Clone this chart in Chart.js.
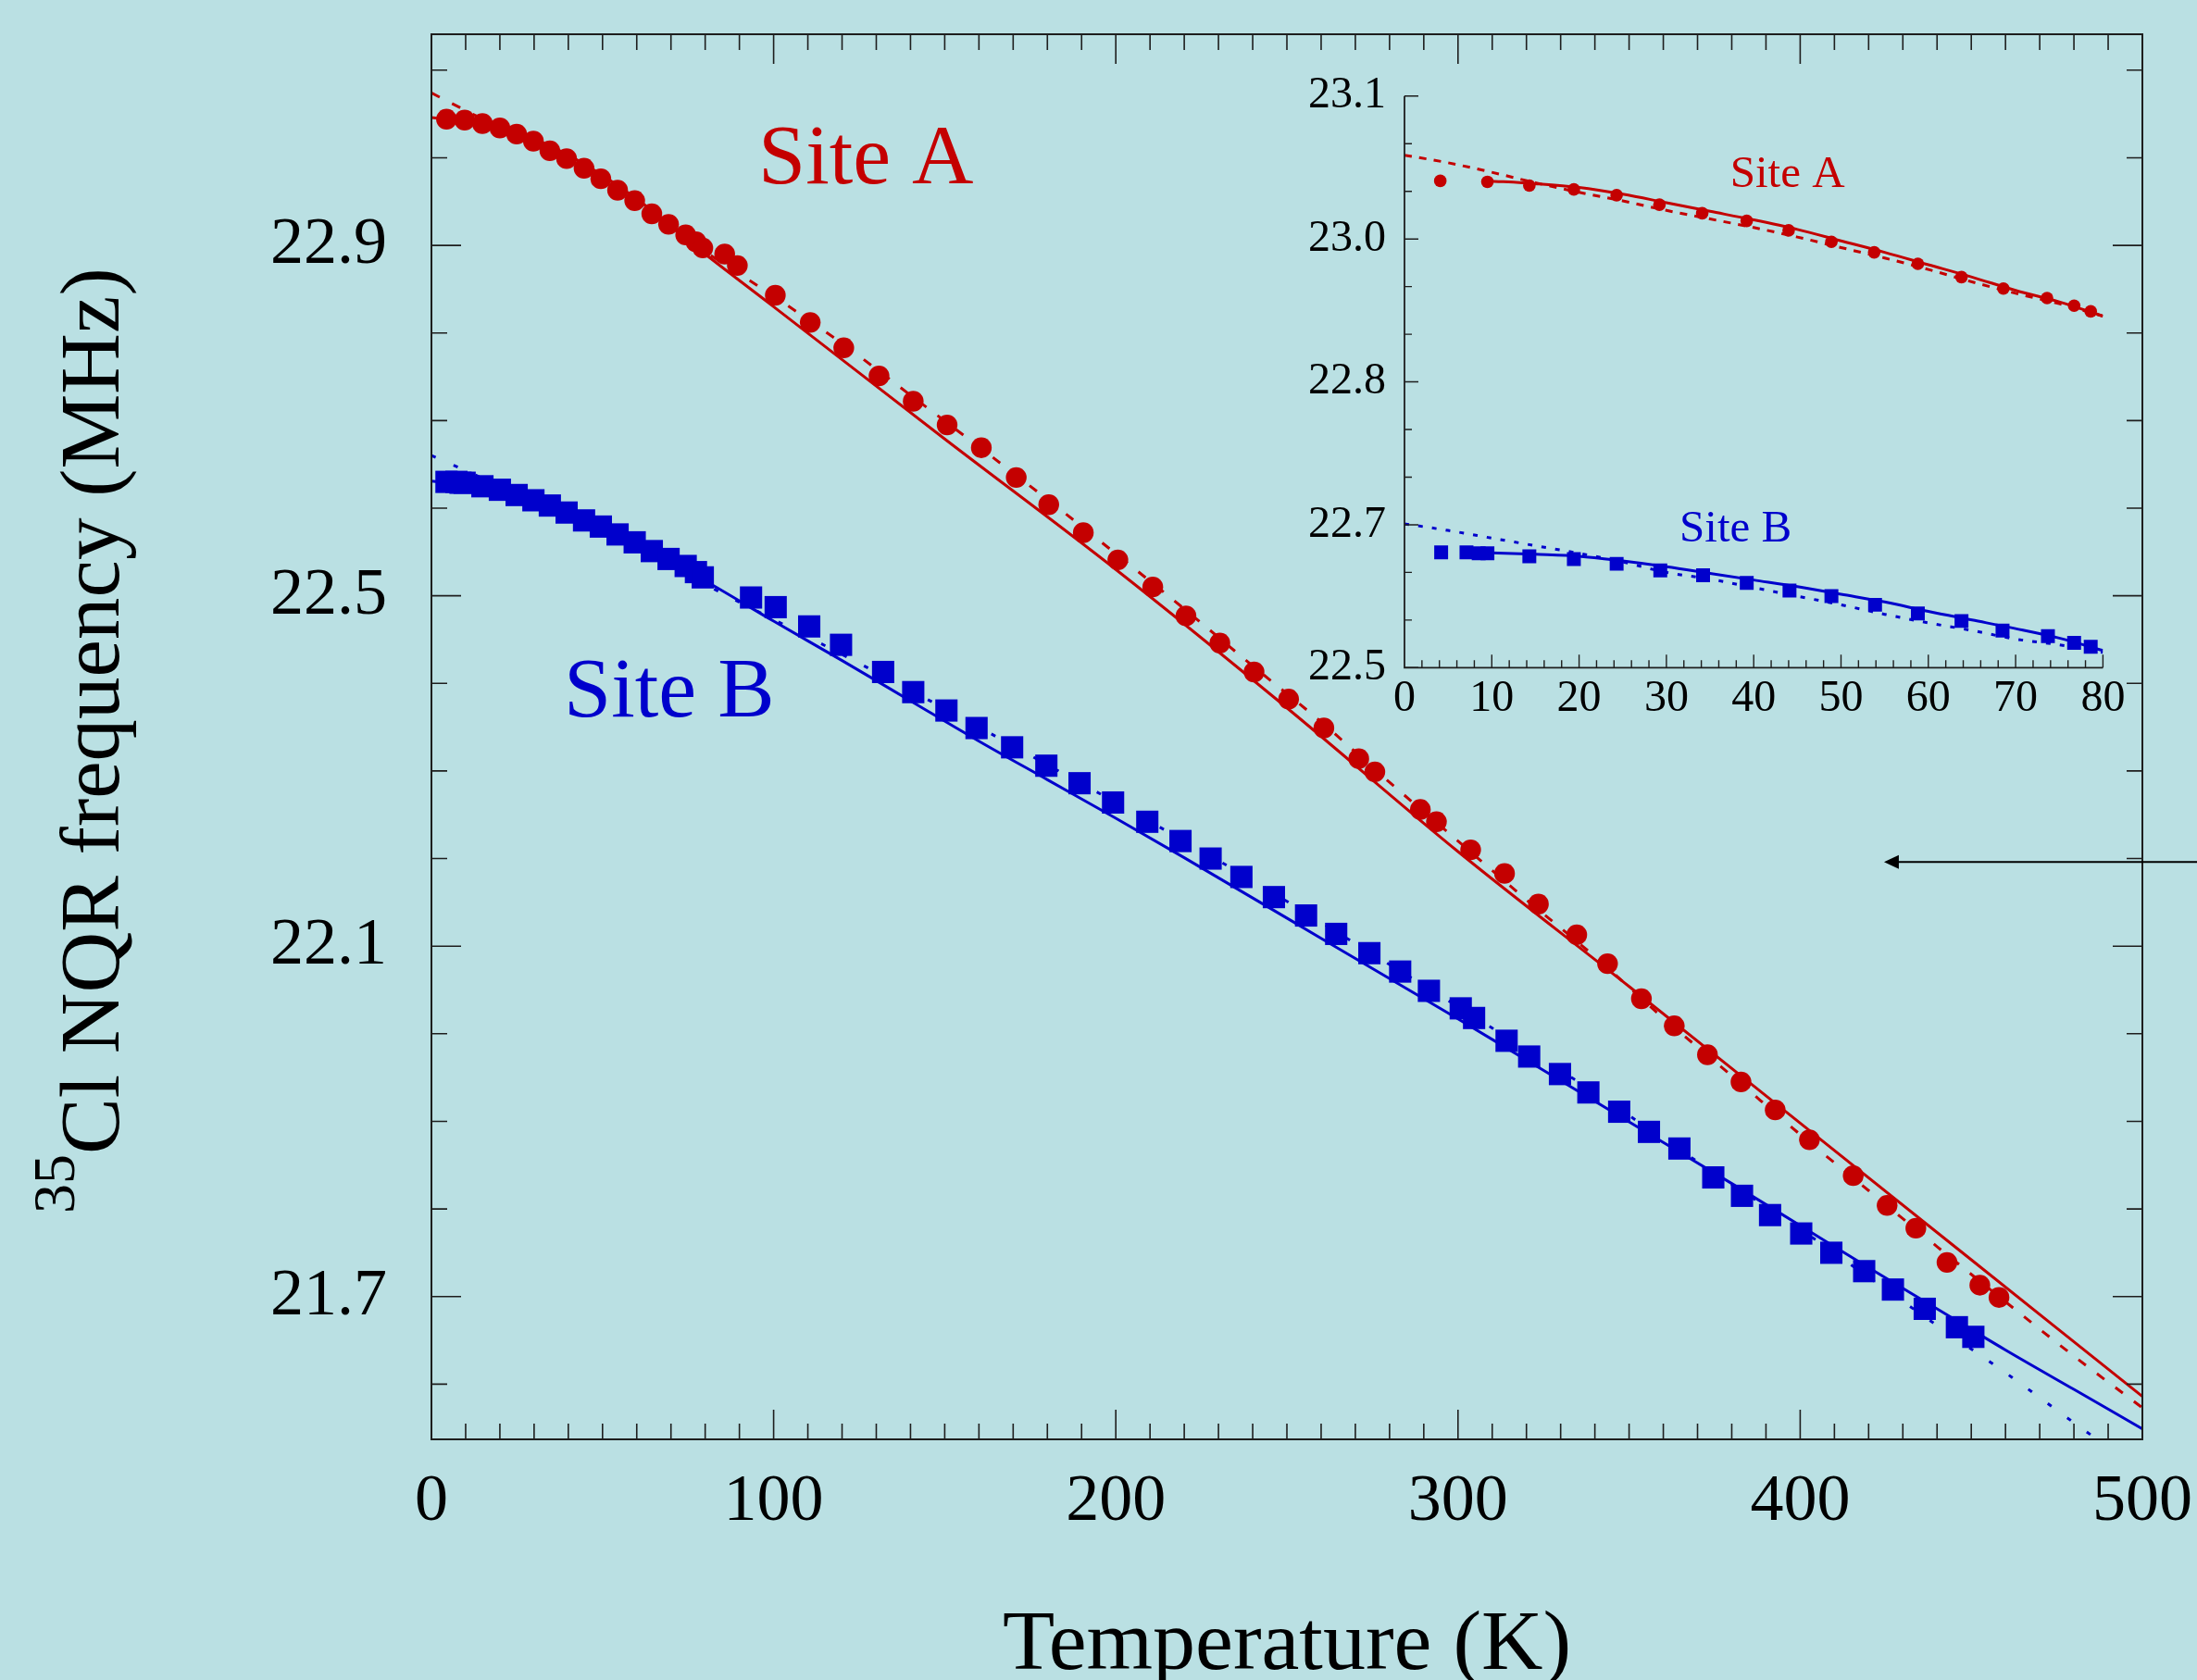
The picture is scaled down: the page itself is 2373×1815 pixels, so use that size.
<!DOCTYPE html>
<html><head><meta charset="utf-8">
<script src="https://cdn.jsdelivr.net/npm/chart.js@4.4.1/dist/chart.umd.min.js"></script>
<style>
html,body{margin:0;padding:0;background:#BAE0E3;width:2373px;height:1815px;overflow:hidden}
#main{position:absolute;left:0;top:0}
#inset{position:absolute;left:1380px;top:60px}
</style></head><body>
<canvas id="main" width="2373" height="1815"></canvas>
<canvas id="inset" width="950" height="740"></canvas>
<script>
// ---------- main panel data ----------
const aT = [4.4,9.7,14.9,20.0,24.9,29.8,34.6,39.5,44.6,49.5,54.4,59.4,64.4,69.3,74.3,77.3,79.3,85.7,89.4,100.5,110.7,120.5,130.8,140.8,150.7,160.7,170.9,180.4,190.5,200.6,210.8,220.5,230.4,240.4,250.5,260.8,271.0,275.7,289.0,293.7,303.7,313.6,323.5,334.7,343.7,353.6,363.2,372.9,382.7,392.7,402.7,415.5,425.4,433.8,442.9,452.5,458.1];
const aV = [23.044,23.043,23.039,23.034,23.027,23.019,23.008,22.999,22.988,22.976,22.963,22.951,22.936,22.924,22.912,22.904,22.897,22.890,22.877,22.843,22.812,22.783,22.751,22.722,22.695,22.669,22.635,22.604,22.572,22.541,22.510,22.477,22.446,22.413,22.382,22.349,22.314,22.299,22.256,22.242,22.210,22.183,22.148,22.113,22.080,22.040,22.009,21.976,21.945,21.913,21.879,21.838,21.804,21.778,21.739,21.713,21.699];
const bT = [4.4,7.3,8.5,9.7,14.9,20.0,24.9,29.8,34.6,39.5,44.6,49.5,54.4,59.4,64.4,69.3,74.3,77.3,79.3,93.4,100.6,110.4,119.7,132.0,140.8,150.5,159.3,169.7,179.7,189.4,199.2,209.2,218.9,227.7,236.7,246.2,255.6,264.4,274.1,283.1,291.5,300.8,304.7,314.2,320.8,329.8,338.1,347.1,355.8,364.7,374.6,383.0,391.2,400.3,409.1,418.7,427.1,436.4,445.8,450.6];
const bV = [22.630,22.630,22.629,22.629,22.625,22.621,22.615,22.609,22.603,22.595,22.586,22.579,22.570,22.561,22.551,22.542,22.534,22.527,22.521,22.498,22.487,22.465,22.444,22.413,22.390,22.369,22.349,22.327,22.306,22.286,22.264,22.242,22.220,22.200,22.179,22.156,22.135,22.114,22.092,22.071,22.049,22.029,22.018,21.992,21.974,21.954,21.933,21.911,21.888,21.869,21.836,21.815,21.793,21.772,21.750,21.729,21.708,21.686,21.665,21.654];
const aFitT = [0,20,40,60,80,100,150,200,250,300,350,400,450,500];
const aFitV = [23.046,23.036,23.003,22.953,22.890,22.830,22.679,22.530,22.372,22.208,22.054,21.898,21.742,21.586];
const aDashT = [0,10,20,40,60,80,100,120,140,160,180,200,220,240,260,280,300,320,340,360,380,400,420,440,460,480,500];
const aDashV = [23.074,23.054,23.034,22.997,22.950,22.893,22.842,22.788,22.729,22.670,22.610,22.548,22.485,22.420,22.356,22.287,22.220,22.153,22.088,22.018,21.952,21.885,21.821,21.757,21.694,21.632,21.573];
const bFitT = [0,20,40,60,80,100,120,140,160,180,200,220,240,260,280,300,320,340,360,380,400,420,440,460,480,500];
const bFitV = [22.631,22.622,22.596,22.560,22.517,22.471,22.426,22.380,22.334,22.290,22.246,22.201,22.155,22.109,22.063,22.017,21.970,21.923,21.876,21.829,21.781,21.733,21.686,21.639,21.594,21.549];
const bDotT = [0,10,20,40,60,80,100,120,140,160,180,200,220,240,260,280,300,320,340,360,380,400,420,440,460,480,490];
const bDotV = [22.660,22.643,22.625,22.594,22.557,22.513,22.473,22.433,22.392,22.350,22.307,22.264,22.220,22.175,22.127,22.079,22.031,21.982,21.933,21.880,21.828,21.777,21.722,21.667,21.613,21.556,21.528];
const xTicks = [0,100,200,300,400,500];
const yTicks = [21.7,22.1,22.5,22.9];

// ---------- inset data ----------
const iaT = [4.1,9.5,14.3,19.4,24.3,29.2,34.1,39.2,44.0,48.9,53.8,58.8,63.8,68.6,73.6,76.7,78.6];
const iaV = [23.011,23.010,23.006,23.002,22.996,22.986,22.977,22.969,22.959,22.947,22.936,22.924,22.910,22.898,22.888,22.880,22.874];
const ibT = [4.2,7.1,8.5,9.5,14.3,19.4,24.3,29.3,34.2,39.2,44.1,48.9,53.9,58.8,63.8,68.5,73.7,76.7,78.6];
const ibV = [22.621,22.621,22.620,22.620,22.617,22.614,22.609,22.602,22.597,22.589,22.581,22.575,22.566,22.557,22.549,22.539,22.533,22.526,22.522];
const iaFitT = [9.5,15,20,25,30,35,40,45,50,55,60,65,70,75,80];
const iaFitV = [23.011,23.008,23.004,22.997,22.988,22.979,22.970,22.960,22.948,22.936,22.923,22.910,22.896,22.884,22.869];
const iaDashT = [0,5,10,15,20,25,30,35,40,45,50,55,60,65,70,75,80];
const iaDashV = [23.038,23.030,23.020,23.009,22.999,22.990,22.980,22.971,22.962,22.952,22.941,22.930,22.918,22.905,22.893,22.882,22.869];
const ibFitT = [8.5,15,20,25,30,35,40,45,50,55,60,65,70,75,80];
const ibFitV = [22.621,22.619,22.617,22.612,22.606,22.599,22.592,22.585,22.577,22.569,22.559,22.550,22.541,22.531,22.518];
const ibDotT = [0,5,10,15,20,25,30,35,40,45,50,55,60,65,70,75,80];
const ibDotV = [22.651,22.644,22.636,22.628,22.620,22.611,22.600,22.593,22.584,22.575,22.566,22.556,22.547,22.539,22.530,22.524,22.516];
const insetXTicks = [0,10,20,30,40,50,60,70,80];
const insetYTicks = [22.5,22.65,22.8,22.95,23.1];
const insetYLabels = ['22.5','22.7','22.8','23.0','23.1'];

// ---------- styling ----------
const RED = '#C40000', BLUE = '#0000CC', INK = '#1e1e1e';
const FONT = '"Liberation Serif", "Times New Roman", serif';
function pts(xs, ys){ return xs.map((x,i)=>({x:x, y:ys[i]})); }

function scatterSet(xs, ys, color, style, r){
  return {data:pts(xs,ys), showLine:false, pointStyle:style, pointRadius:r, pointHoverRadius:r,
          pointBackgroundColor:color, pointBorderWidth:0, borderColor:color, order:0};
}
function lineSet(xs, ys, color, dash, w){
  return {data:pts(xs,ys), showLine:true, pointRadius:0, pointHoverRadius:0, borderColor:color,
          borderWidth:w, borderDash:dash, fill:false, cubicInterpolationMode:'monotone', order:1};
}
function noPadX(s, h){ s.height = h; s.paddingLeft = 0; s.paddingRight = 0; }
function noPadY(s, w){ s.width = w; s.paddingTop = 0; s.paddingBottom = 0; }

const mainDecor = {
  id:'mainDecor',
  afterDraw(chart){
    const {ctx, chartArea:a, scales:{x, y}} = chart;
    ctx.save();
    ctx.strokeStyle = INK; ctx.lineWidth = 2;
    ctx.strokeRect(a.left, a.top, a.right-a.left, a.bottom-a.top);
    ctx.lineWidth = 1.6;
    ctx.beginPath();
    for (let t = 0; t <= 500; t += 10){
      const px = x.getPixelForValue(t);
      const L = (t % 100 === 0) ? 32 : 17;
      ctx.moveTo(px, a.bottom); ctx.lineTo(px, a.bottom - L);
      ctx.moveTo(px, a.top); ctx.lineTo(px, a.top + L);
    }
    for (let k = 216; k <= 231; k++){
      const py = y.getPixelForValue(k/10);
      const L = ((k - 217) % 4 === 0) ? 32 : 17;
      ctx.moveTo(a.left, py); ctx.lineTo(a.left + L, py);
      ctx.moveTo(a.right, py); ctx.lineTo(a.right - L, py);
    }
    ctx.stroke();
    // arrow
    const ay = y.getPixelForValue(22.196), ax = x.getPixelForValue(424.5);
    ctx.lineWidth = 2; ctx.strokeStyle = '#000'; ctx.fillStyle = '#000';
    ctx.beginPath(); ctx.moveTo(chart.width, ay); ctx.lineTo(ax + 12, ay); ctx.stroke();
    ctx.beginPath(); ctx.moveTo(ax, ay); ctx.lineTo(ax + 16, ay - 7.5); ctx.lineTo(ax + 16, ay + 7.5); ctx.closePath(); ctx.fill();
    // site labels
    ctx.textAlign = 'left'; ctx.textBaseline = 'alphabetic';
    ctx.font = '92px ' + FONT;
    ctx.fillStyle = RED; ctx.fillText('Site A', x.getPixelForValue(95.5), y.getPixelForValue(22.971));
    ctx.fillStyle = BLUE; ctx.fillText('Site B', x.getPixelForValue(38.7), y.getPixelForValue(22.362));
    // axis titles
    ctx.fillStyle = '#000';
    ctx.textAlign = 'center';
    ctx.font = '92px ' + FONT;
    ctx.fillText('Temperature (K)', (a.left + a.right)/2, 1803);
    ctx.save();
    ctx.translate(128, 1311);
    ctx.rotate(-Math.PI/2);
    ctx.textAlign = 'left';
    ctx.font = '64px ' + FONT;
    ctx.fillText('35', 0, -48);
    const w = ctx.measureText('35').width;
    ctx.font = '91px ' + FONT;
    ctx.fillText('Cl NQR frequency (MHz)', w, 0);
    ctx.restore();
    ctx.restore();
  }
};

const insetDecor = {
  id:'insetDecor',
  afterDraw(chart){
    const {ctx, chartArea:a, scales:{x, y}} = chart;
    ctx.save();
    ctx.strokeStyle = INK; ctx.lineWidth = 1.8;
    ctx.beginPath();
    ctx.moveTo(a.left, a.top); ctx.lineTo(a.left, a.bottom); ctx.lineTo(a.right, a.bottom);
    ctx.stroke();
    ctx.lineWidth = 1.4;
    ctx.beginPath();
    for (let t = 2; t <= 80; t += 2){
      const px = x.getPixelForValue(t);
      const L = (t % 10 === 0) ? 14 : 8;
      ctx.moveTo(px, a.bottom); ctx.lineTo(px, a.bottom - L);
    }
    for (let k = 0; k <= 12; k++){
      const py = y.getPixelForValue(22.5 + k*0.05);
      const L = (k % 3 === 0) ? 15 : 8;
      ctx.moveTo(a.left, py); ctx.lineTo(a.left + L, py);
    }
    ctx.stroke();
    ctx.textAlign = 'left'; ctx.textBaseline = 'alphabetic';
    ctx.font = '49px ' + FONT;
    ctx.fillStyle = RED; ctx.fillText('Site A', x.getPixelForValue(37.3), y.getPixelForValue(23.005));
    ctx.fillStyle = BLUE; ctx.fillText('Site B', x.getPixelForValue(31.5), y.getPixelForValue(22.6325));
    ctx.restore();
  }
};

Chart.defaults.font.family = FONT;
Chart.defaults.color = '#000';

new Chart(document.getElementById('main'), {
  type:'scatter',
  data:{datasets:[
    scatterSet(aT, aV, RED, 'circle', 11.2),
    scatterSet(bT, bV, BLUE, 'rect', 17),
    lineSet(aFitT, aFitV, RED, [], 3),
    lineSet(aDashT, aDashV, RED, [10,15], 3),
    lineSet(bFitT, bFitV, BLUE, [], 3),
    lineSet(bDotT, bDotV, BLUE, [5,21], 3)
  ]},
  options:{
    responsive:false, animation:false, devicePixelRatio:1,
    layout:{padding:{left:0, top:37, right:59, bottom:0}},
    plugins:{legend:{display:false}, tooltip:{enabled:false}},
    scales:{
      x:{type:'linear', position:'bottom', min:0, max:500,
         afterBuildTicks(s){ s.ticks = xTicks.map(v=>({value:v})); },
         afterFit(s){ noPadX(s, 260); },
         grid:{display:false, drawTicks:false}, border:{display:false},
         ticks:{padding:25, font:{family:FONT, size:72}, color:'#000', maxRotation:0, autoSkip:false,
                callback:(v)=>String(v)}},
      y:{type:'linear', position:'left', min:21.537, max:23.141,
         afterBuildTicks(s){ s.ticks = yTicks.map(v=>({value:v})); },
         afterFit(s){ noPadY(s, 466); },
         grid:{display:false, drawTicks:false}, border:{display:false},
         ticks:{padding:48, font:{family:FONT, size:72}, color:'#000', autoSkip:false,
                callback:(v)=>Number(v).toFixed(1)}}
    }
  },
  plugins:[mainDecor]
});

new Chart(document.getElementById('inset'), {
  type:'scatter',
  data:{datasets:[
    scatterSet(iaT, iaV, RED, 'circle', 6.8),
    scatterSet(ibT, ibV, BLUE, 'rect', 10.6),
    lineSet(iaFitT, iaFitV, RED, [], 3),
    lineSet(iaDashT, iaDashV, RED, [8,8], 3),
    lineSet(ibFitT, ibFitV, BLUE, [], 3),
    lineSet(ibDotT, ibDotV, BLUE, [5,10], 3)
  ]},
  options:{
    responsive:false, animation:false, devicePixelRatio:1,
    layout:{padding:{left:0, top:43.8, right:58.6, bottom:0}},
    plugins:{legend:{display:false}, tooltip:{enabled:false}},
    scales:{
      x:{type:'linear', position:'bottom', min:0, max:80,
         afterBuildTicks(s){ s.ticks = insetXTicks.map(v=>({value:v})); },
         afterFit(s){ noPadX(s, 78.7); },
         grid:{display:false, drawTicks:false}, border:{display:false},
         ticks:{padding:5.5, font:{family:FONT, size:48}, color:'#000', maxRotation:0, autoSkip:false,
                callback:(v)=>String(v)}},
      y:{type:'linear', position:'left', min:22.5, max:23.1,
         afterBuildTicks(s){ s.ticks = insetYTicks.map(v=>({value:v})); },
         afterFit(s){ noPadY(s, 137); },
         grid:{display:false, drawTicks:false}, border:{display:false},
         ticks:{padding:20, font:{family:FONT, size:48}, color:'#000', autoSkip:false,
                callback:(v, i)=>insetYLabels[i]}}
    }
  },
  plugins:[insetDecor]
});
</script>
</body></html>
